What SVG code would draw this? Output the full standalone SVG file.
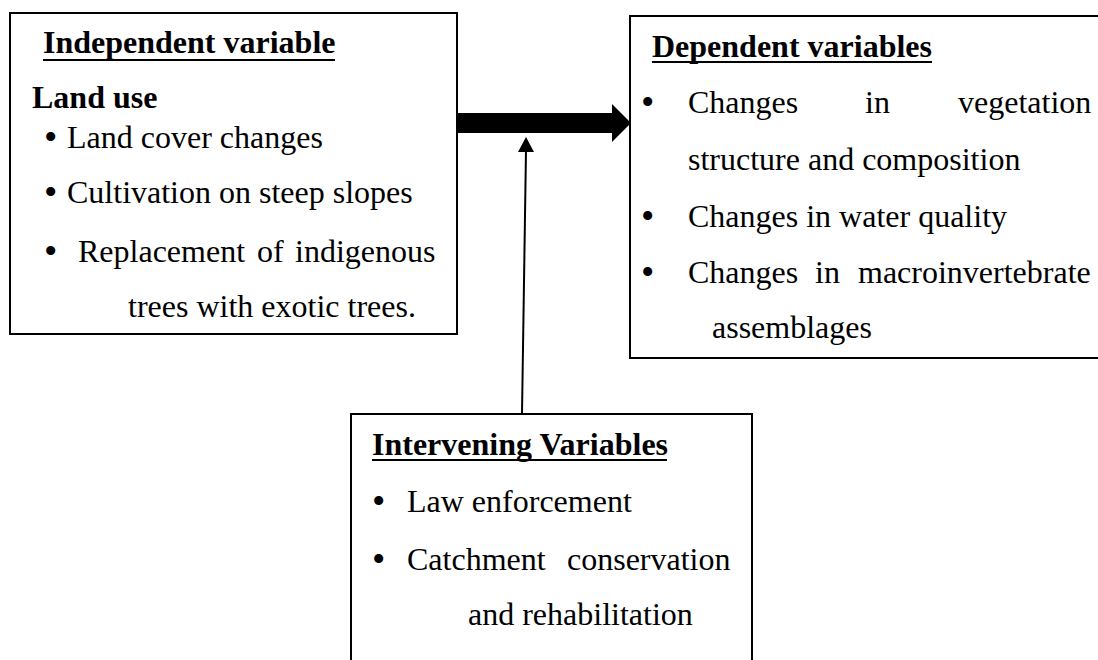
<svg xmlns="http://www.w3.org/2000/svg" width="1098" height="660" viewBox="0 0 1098 660">
<style>
text{font-family:"Liberation Serif","Times New Roman",serif;font-size:32px;fill:#000}
.b{font-weight:bold}
.bu{font-size:38px}
.box{fill:#fff;stroke:#000;stroke-width:2}
.ul{stroke:#000;stroke-width:2.2}
</style>
<rect width="1098" height="660" fill="#fff"/>
<g id="independent">
<rect class="box" x="10" y="13" width="447" height="321"/>
<text class="b" x="43" y="53">Independent variable</text>
<line class="ul" x1="43" y1="60" x2="335" y2="60"/>
<text class="b" x="32" y="108">Land use</text>
<text class="bu" x="44" y="150">•</text><text x="67" y="148">Land cover changes</text>
<text class="bu" x="44" y="205">•</text><text x="67" y="203">Cultivation on steep slopes</text>
<text class="bu" x="44" y="264">•</text><text x="78" y="262">Replacement</text><text x="257" y="262">of</text><text x="295" y="262">indigenous</text>
<text x="128" y="317">trees with exotic trees.</text>
</g>
<g id="dependent">
<rect class="box" x="630" y="16" width="480" height="342"/>
<text class="b" x="652" y="57">Dependent variables</text>
<line class="ul" x1="652" y1="62" x2="932" y2="62"/>
<text class="bu" x="641" y="115">•</text><text x="688" y="113">Changes</text><text x="865" y="113">in</text><text x="958" y="113">vegetation</text>
<text x="688" y="170">structure and composition</text>
<text class="bu" x="641" y="229">•</text><text x="688" y="227">Changes in water quality</text>
<text class="bu" x="641" y="285">•</text><text x="688" y="283">Changes</text><text x="815" y="283">in</text><text x="858" y="283">macroinvertebrate</text>
<text x="712" y="338">assemblages</text>
</g>
<g id="intervening">
<rect class="box" x="351" y="414" width="401" height="260"/>
<text class="b" x="372" y="455">Intervening Variables</text>
<line class="ul" x1="372" y1="460" x2="667" y2="460"/>
<text class="bu" x="372" y="514">•</text><text x="407" y="512">Law enforcement</text>
<text class="bu" x="372" y="572">•</text><text x="407" y="570">Catchment</text><text x="567" y="570">conservation</text>
<text x="468" y="625">and rehabilitation</text>
</g>
<g id="connectors">
<polygon points="457,113 612,113 612,104 631,123 612,142 612,133 457,133" fill="#000"/>
<line x1="522" y1="414" x2="526" y2="150" stroke="#000" stroke-width="2"/>
<polygon points="526,137 518,152 534,152" fill="#000"/>
</g>
</svg>
